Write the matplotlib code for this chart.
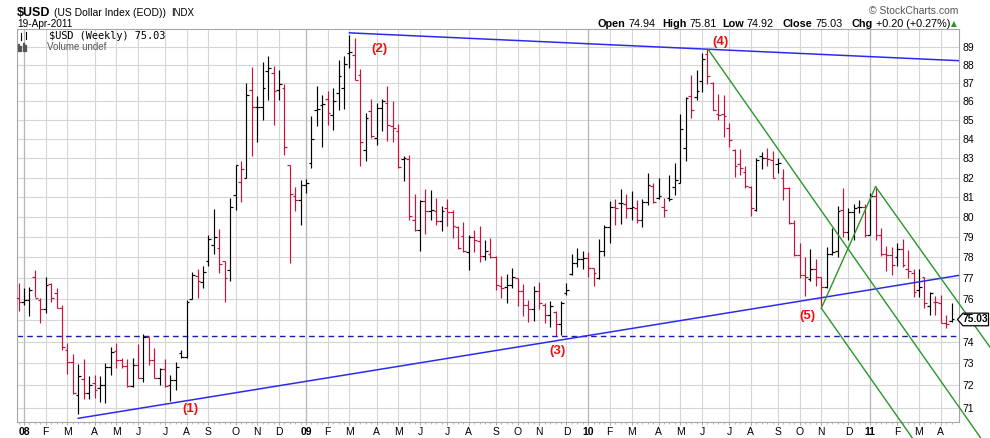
import numpy as np
import pandas as pd
import matplotlib
matplotlib.use("Agg")
import matplotlib.pyplot as plt
from matplotlib.ticker import FixedLocator, NullLocator, NullFormatter
from matplotlib.patches import Polygon
from matplotlib.transforms import IdentityTransform

plt.rcParams['font.family'] = ['Liberation Sans', 'DejaVu Sans']

# weekly bars of $USD, first bar = week of 31-Dec-2007
first_week = '2007-12-31'
opens = [76.06, 75.84, 75.95, 77.04, 75.95, 75.51, 76.70, 76.30, 75.56, 73.60,
         73.05, 71.55, 72.30, 71.64, 72.10, 71.90, 72.00, 72.85, 73.55, 73.15,
         72.88, 71.97, 72.92, 72.32, 74.20, 73.15, 72.35, 72.74, 72.00, 72.24,
         73.45, 73.30, 76.00, 77.10, 76.80, 77.82, 78.59, 78.46, 77.81, 77.38,
         81.13, 81.76, 81.95, 86.60, 85.69, 85.69, 87.64, 87.55, 86.64, 86.73,
         82.67, 81.04, 80.87, 81.60, 82.75, 85.56, 85.80, 86.14, 85.26, 86.46,
         86.73, 88.65, 88.56, 87.45, 83.44, 85.50, 84.06, 85.65, 85.92, 84.70,
         84.40, 82.95, 82.95, 79.87, 79.33, 80.79, 80.29, 80.32, 79.82, 80.45,
         80.25, 79.49, 79.04, 78.27, 78.99, 78.82, 78.06, 78.16, 78.04, 76.60,
         76.55, 76.65, 77.00, 76.40, 75.70, 75.50, 76.40, 75.70, 75.25, 75.40,
         74.80, 76.30, 77.20, 77.75, 77.90, 77.95, 77.50, 77.00, 78.30, 79.50,
         80.50, 80.70, 80.65, 80.45, 80.45, 79.85, 80.75, 81.55, 80.95, 80.50,
         80.95, 81.50, 81.70, 83.55, 86.30, 86.25, 87.10, 88.60, 87.00, 85.30,
         85.35, 84.60, 83.45, 82.70, 82.30, 81.50, 80.35, 83.10, 83.00, 82.90,
         82.70, 81.95, 81.45, 79.70, 78.10, 77.15, 76.95, 77.45, 77.05, 76.55,
         78.15, 78.30, 80.35, 79.25, 80.25, 80.50, 80.50, 79.10, 81.05, 79.10,
         78.15, 78.10, 78.00, 78.40, 77.42, 77.26, 76.43, 77.06, 75.68, 75.87,
         75.80, 74.88, 74.94]
highs = [76.75, 76.50, 76.59, 77.39, 76.03, 77.07, 76.75, 76.54, 75.72, 73.95,
         73.41, 72.95, 73.20, 72.42, 72.45, 72.40, 73.03, 73.73, 73.92, 73.23,
         73.18, 73.26, 73.88, 74.35, 74.20, 73.69, 72.80, 73.20, 72.47, 73.08,
         73.60, 75.95, 77.30, 77.45, 77.60, 79.09, 80.40, 79.40, 77.81, 80.96,
         82.67, 82.84, 87.00, 87.86, 86.28, 88.15, 88.47, 87.92, 87.70, 86.95,
         82.67, 81.50, 81.89, 81.90, 85.20, 86.82, 86.37, 86.58, 86.73, 88.28,
         88.47, 89.63, 89.48, 87.77, 85.38, 86.15, 85.92, 86.13, 86.85, 86.00,
         84.80, 83.10, 83.18, 81.18, 80.84, 81.42, 81.35, 80.96, 80.54, 80.93,
         80.37, 79.54, 79.73, 79.09, 79.37, 79.54, 78.84, 78.94, 78.05, 77.10,
         77.20, 77.50, 77.00, 76.70, 75.95, 76.60, 76.80, 75.80, 75.90, 75.45,
         75.90, 76.75, 78.15, 78.45, 78.30, 78.25, 77.50, 78.90, 79.60, 80.80,
         80.90, 81.40, 81.15, 81.30, 80.85, 80.90, 82.25, 81.70, 81.95, 80.95,
         82.15, 82.75, 85.30, 86.25, 87.45, 87.70, 88.65, 88.85, 87.05, 86.40,
         86.35, 84.85, 83.50, 83.50, 82.60, 81.55, 83.00, 83.30, 83.55, 83.35,
         83.00, 82.45, 81.50, 79.85, 78.70, 78.00, 78.40, 77.90, 77.05, 78.50,
         79.45, 80.55, 81.45, 80.45, 80.65, 80.85, 80.65, 81.20, 81.45, 79.45,
         78.55, 78.50, 78.70, 78.89, 78.37, 77.42, 77.42, 77.06, 76.32, 76.16,
         76.20, 75.25, 75.81]
lows = [75.43, 75.70, 75.21, 76.08, 74.85, 75.32, 75.87, 75.56, 73.61, 72.52,
        71.60, 70.70, 71.37, 71.37, 71.45, 71.27, 71.22, 72.45, 72.77, 72.77,
        71.94, 71.94, 72.32, 72.14, 72.92, 72.33, 72.00, 71.94, 71.30, 71.80,
        73.23, 73.23, 76.00, 76.05, 76.50, 77.57, 78.17, 77.25, 75.86, 76.88,
        80.37, 80.74, 81.95, 83.10, 83.85, 85.03, 86.10, 84.73, 86.05, 83.18,
        77.74, 80.32, 79.62, 81.20, 82.49, 84.68, 83.56, 84.73, 84.46, 85.56,
        85.61, 87.82, 87.14, 82.61, 82.87, 84.06, 83.70, 84.44, 83.88, 83.85,
        82.49, 81.84, 79.83, 79.32, 78.33, 79.17, 79.83, 79.62, 79.32, 79.54,
        78.96, 78.43, 78.27, 77.41, 78.27, 77.78, 77.86, 77.96, 76.45, 76.05,
        75.80, 76.50, 75.65, 75.20, 74.90, 74.95, 75.50, 74.85, 74.70, 74.25,
        74.30, 76.20, 77.15, 77.55, 77.45, 77.05, 76.60, 76.95, 78.05, 78.70,
        79.60, 79.65, 79.95, 79.85, 79.70, 79.50, 80.60, 80.70, 80.90, 80.00,
        80.80, 81.10, 81.70, 82.85, 85.10, 86.10, 86.50, 86.95, 85.55, 85.00,
        84.10, 83.60, 82.05, 82.15, 81.45, 80.05, 80.30, 82.45, 82.60, 82.00,
        82.25, 80.85, 79.65, 78.05, 77.00, 76.15, 76.85, 76.60, 75.65, 76.50,
        78.10, 78.00, 79.00, 78.85, 78.85, 80.20, 79.00, 79.10, 78.85, 78.05,
        77.35, 77.15, 77.60, 77.52, 76.98, 76.11, 76.11, 75.57, 75.24, 75.24,
        74.85, 74.62, 74.92]
closes = [75.84, 75.95, 76.43, 76.03, 75.51, 76.67, 76.06, 75.56, 73.73, 73.05,
          71.64, 72.40, 71.64, 72.00, 71.80, 72.00, 72.85, 73.50, 73.15, 72.88,
          71.97, 72.92, 72.32, 74.20, 73.15, 72.35, 72.74, 71.97, 72.24, 72.85,
          73.30, 75.87, 77.15, 76.85, 77.30, 78.92, 78.99, 77.69, 77.00, 80.50,
          82.62, 82.45, 86.37, 85.69, 85.72, 86.73, 87.82, 86.58, 86.95, 83.59,
          81.16, 80.87, 81.60, 81.70, 84.00, 85.60, 85.87, 85.39, 86.00, 87.36,
          88.04, 88.69, 87.18, 83.83, 85.12, 84.15, 85.65, 86.04, 84.72, 84.60,
          82.55, 83.01, 80.03, 79.33, 80.79, 80.29, 80.37, 79.82, 80.32, 80.25,
          79.54, 78.47, 78.30, 78.99, 78.87, 78.06, 78.30, 78.04, 76.65, 76.50,
          76.65, 77.05, 76.40, 75.70, 75.50, 76.40, 75.80, 75.25, 75.65, 74.80,
          75.80, 76.45, 77.75, 77.90, 77.95, 77.50, 77.25, 78.30, 79.50, 80.50,
          80.45, 80.70, 80.45, 80.52, 79.85, 80.75, 81.60, 80.75, 81.05, 80.35,
          80.90, 81.85, 84.55, 86.20, 85.55, 86.55, 88.30, 87.40, 85.55, 85.25,
          85.20, 83.95, 82.60, 82.50, 81.55, 80.45, 82.90, 83.02, 82.95, 82.00,
          82.75, 81.45, 79.70, 78.10, 77.15, 77.05, 77.45, 77.05, 76.55, 78.15,
          78.25, 80.30, 79.25, 80.25, 80.45, 80.52, 79.10, 81.05, 79.10, 78.15,
          78.10, 77.65, 78.40, 77.63, 77.36, 76.35, 76.59, 75.80, 76.27, 75.85,
          74.88, 74.83, 75.03]

# hand drawn annotations: (bar index, value) anchor pairs
support_line = [(11.0, 70.53), (173.4, 77.13)]
resist_line = [(61.0, 89.77), (173.4, 88.22)]
dashed_level = 74.28
green_lines = [[(127.1, 88.86), (177.4, 69.66)],
               [(158.0, 81.53), (179.1, 73.74)],
               [(148.0, 75.56), (158.0, 81.53)],
               [(148.0, 75.56), (164.8, 69.66)]]
wave_labels = ['(1)', '(2)', '(3)', '(4)', '(5)']
wave_pos = [(31.6, 70.94), (66.6, 88.88), (99.3, 73.55), (129.5, 89.27), (145.5, 75.19)]
month_letters = 'JFMAMJJASOND'
holiday_mondays = ['2010-05-31']
y_ticks = list(range(71, 90))

W, H = 990, 438
RED = '#d0103a'
fig = plt.figure(figsize=(W / 100, H / 100), dpi=100)
ax = fig.add_axes([16.7 / W, 1 - 421.7 / H, (959 - 16.7) / W, (421.7 - 29.3) / H])

opens, highs, lows, closes = map(np.array, (opens, highs, lows, closes))
n = len(closes)
x = np.arange(n)
prev = np.r_[opens[0], closes[:-1]]
cols = np.where(closes >= prev, 'black', RED)

ax.vlines(x, lows, highs, colors=cols, lw=0.85, zorder=3)
ax.hlines(opens, x - 0.5, x, colors=cols, lw=0.85, zorder=3)
ax.hlines(closes, x, x + 0.5, colors=cols, lw=0.85, zorder=3)

ax.set_yscale('log')
ax.set_xlim(-0.35, 173.38)
ax.set_ylim(70.38, 89.97)
ax.yaxis.set_major_locator(FixedLocator(y_ticks))
ax.yaxis.set_minor_locator(NullLocator())
ax.yaxis.set_minor_formatter(NullFormatter())
# the label under the last-price box is hidden, as on the original
last_tick = int(round(closes[-1]))
ax.set_yticklabels(['' if v == last_tick else str(v) for v in y_ticks])
ax.yaxis.tick_right()
ax.tick_params(axis='y', length=0, pad=2.2, labelsize=7.5, colors='black')

# month grid at first trading day of each month
weeks = pd.date_range(first_week, periods=n, freq='W-MON')
hol = pd.to_datetime(holiday_mondays)
start = pd.DatetimeIndex([d + pd.Timedelta(days=1) if d in hol else d for d in weeks])
mkey = start.year * 12 + start.month
new_month = np.r_[False, np.diff(mkey) != 0]
mpos = x[new_month]
mdates = start[new_month]
mlabels = ['%02d' % (d.year % 100) if d.month == 1 else month_letters[d.month - 1] for d in mdates]
ax.set_xticks(mpos)
ax.set_xticklabels(mlabels)
for lab, d in zip(ax.get_xticklabels(), mdates):
    if d.month == 1:
        lab.set_fontweight('bold')
ax.xaxis.set_minor_locator(FixedLocator(x))
ax.tick_params(axis='x', which='major', length=2, width=0.6, color='#999999', pad=2, labelsize=7.5)
ax.tick_params(axis='x', which='minor', length=1.5, width=0.6, color='#aaaaaa')

ax.grid(True, which='major', color='#d6d6d6', lw=0.8)
ax.set_axisbelow(True)
for p, d in zip(mpos, mdates):
    if d.month == 1:
        ax.axvline(p, color='#b8b8b8', lw=0.9, zorder=0.6)
for s in ax.spines.values():
    s.set_color('#a6a6a6')
    s.set_linewidth(0.8)


def extend(p0, p1, k0, k1):
    (ka, va), (kb, vb) = p0, p1
    slope = (np.log(vb) - np.log(va)) / (kb - ka)
    ks = np.array([k0, k1])
    return ks, np.exp(np.log(va) + slope * (ks - ka))


ks, vs = extend(*support_line, support_line[0][0], 176)
ax.plot(ks, vs, color='#2b2bf0', lw=1.1, zorder=4)
ks, vs = extend(*resist_line, resist_line[0][0], 176)
ax.plot(ks, vs, color='#2b2bf0', lw=1.1, zorder=4)
ax.axhline(dashed_level, color='#1c1caa', lw=1.0, ls=(0, (4, 3)), zorder=2)
for seg in green_lines:
    ks, vs = extend(*seg, seg[0][0], seg[1][0] + (6 if seg[1][1] < 72 or seg[1][0] > 170 else 0))
    ax.plot(ks, vs, color='#2a962a', lw=1.0, zorder=4, clip_on=False)

for t, (k, v) in zip(wave_labels, wave_pos):
    ax.text(k, v, t, color='#ee1010', fontsize=9.5, fontweight='bold', ha='center', va='center', zorder=5)

# header
def ftext(px, py, s, **kw):
    fig.text(px / W, 1 - py / H, s, va='baseline', **kw)

ftext(17, 16.5, '$USD', fontsize=9, fontweight='bold')
ftext(54, 16.5, '(US Dollar Index (EOD))', fontsize=7.5)
ftext(171, 16.5, 'INDX', fontsize=7)
ftext(17, 27, '19-Apr-2011', fontsize=7.3)
ftext(958, 14, '\u00a9 StockCharts.com', fontsize=7.5, color='#555555', ha='right')
chg = closes[-1] - closes[-2]
pct = chg / closes[-2] * 100
pieces = [('Open', 597.7, True), ('%.2f' % opens[-1], 628.3, False),
          ('High', 662.3, True), ('%.2f' % highs[-1], 690, False),
          ('Low', 722.7, True), ('%.2f' % lows[-1], 746.7, False),
          ('Close', 782.7, True), ('%.2f' % closes[-1], 815, False),
          ('Chg', 851, True), ('%+.2f (%+.2f%%)' % (chg, pct), 875.7, False)]
for s, px, b in pieces:
    ftext(px, 26.7, s, fontsize=7.8, fontweight='bold' if b else 'normal')
ftext(950.5, 26.2, '\u25b2', fontsize=5.5, color='#2a962a', family='DejaVu Sans')

# legend inside plot
ax.text(32 / 942.3, 1 - 10 / 392.4, '$USD (Weekly) %.2f' % closes[-1], transform=ax.transAxes,
        family='DejaVu Sans Mono', fontsize=7.4, va='baseline')
ax.text(30 / 942.3, 1 - 20.7 / 392.4, 'Volume undef', transform=ax.transAxes,
        fontsize=7, color='#555555', va='baseline')
ic = IdentityTransform()
for (px, y0, y1) in [(20.5, 33, 40), (25.5, 32, 39)]:
    fig.add_artist(plt.Line2D([px, px], [H - y0, H - y1], color='black', lw=0.8, transform=ic))
for px, y0 in [(18.5, 45), (21, 47), (23.5, 44), (26, 46)]:
    fig.add_artist(plt.Line2D([px, px], [H - y0, H - 50.5], color='#555555', lw=1.6, transform=ic))

# last price box
fig.canvas.draw()
yd = ax.transData.transform((0, closes[-1]))[1]
xr = ax.transAxes.transform((1, 0))[0]
pts = [(xr - 1.5, yd), (xr + 4, yd + 6.3), (W - 1.5, yd + 6.3), (W - 1.5, yd - 6.3), (xr + 4, yd - 6.3)]
fig.add_artist(Polygon(pts, closed=True, fc='white', ec='black', lw=0.9, transform=ic, zorder=6))
fig.text((xr + 4 + W - 1.5) / 2 / W, yd / H, '%.2f' % closes[-1], fontsize=7.4, fontweight='bold',
         ha='center', va='center', zorder=7)

fig.savefig('out.png', dpi=100)
